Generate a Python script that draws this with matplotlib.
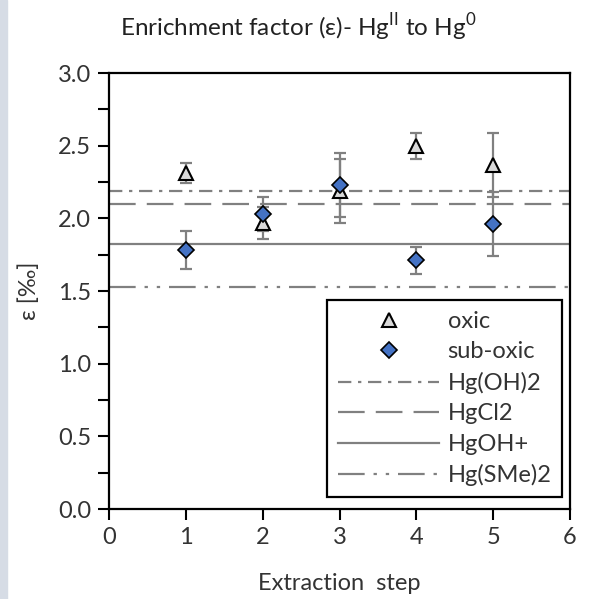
import numpy as np
import matplotlib.pyplot as plt
from matplotlib.patches import Rectangle

plt.rcParams['font.family'] = ['Lato', 'DejaVu Sans']

# data
steps = [1, 2, 3, 4, 5]
oxic = [2.31, 1.97, 2.19, 2.50, 2.37]
oxic_err = [0.07, 0.11, 0.22, 0.09, 0.22]
suboxic = [1.78, 2.03, 2.23, 1.71, 1.96]
suboxic_err = [0.13, 0.12, 0.22, 0.09, 0.22]

ref_names = ['Hg(OH)2', 'HgCl2', 'HgOH+', 'Hg(SMe)2']
ref_values = [2.19, 2.10, 1.82, 1.53]
ref_styles = [(0, (6, 3, 1.5, 3)), (0, (12, 5)), '-', (0, (12, 4, 1.5, 4, 1.5, 4))]

grey = '#808080'
fs = 17

fig = plt.figure(figsize=(5.9, 5.99), dpi=100)
fig.patches.append(Rectangle((0, 0), 7 / 590, 1, transform=fig.transFigure,
                             color='#d6dce5', zorder=0))
ax = fig.add_axes([109 / 590, 1 - 509 / 599, 461 / 590, 436 / 599])

for name, val, ls in zip(ref_names, ref_values, ref_styles):
    ax.axhline(val, color=grey, lw=1.6, ls=ls, label=name, zorder=1)

ax.errorbar(steps, oxic, yerr=oxic_err, fmt='none', ecolor=grey, elinewidth=1.6,
            capsize=4, capthick=1.6, zorder=2)
ax.errorbar(steps, suboxic, yerr=suboxic_err, fmt='none', ecolor=grey, elinewidth=1.6,
            capsize=4, capthick=1.6, zorder=2)
ax.plot(steps, oxic, ls='none', marker='^', ms=10.5, mfc='#d9d9d9', mec='black',
        mew=1.5, label='oxic', zorder=3)
ax.plot(steps, suboxic, ls='none', marker='D', ms=8, mfc='#4472c4', mec='black',
        mew=1.2, label='sub-oxic', zorder=4)

ax.set_xlim(0, 6)
ax.set_ylim(0, 3.0)
ax.set_xticks(range(7))
ax.set_yticks(np.arange(0, 3.01, 0.5))
ax.set_yticks(np.arange(0.25, 3.0, 0.5), minor=True)
ax.set_yticklabels(['%.1f' % v for v in np.arange(0, 3.01, 0.5)])
ax.tick_params(axis='both', which='both', direction='out', length=8, width=1.5,
               labelsize=fs, color='black', labelcolor='#333333', pad=5)
for s in ax.spines.values():
    s.set_linewidth(1.6)

ax.set_xlabel('Extraction  step', fontsize=fs, color='#333333', labelpad=18)
ax.set_ylabel('ε [‰]', fontsize=fs, color='#333333', labelpad=13)
fig.text(0.505, 0.955, 'Enrichment factor (ε)- Hg$^{\\mathregular{II}}$ to Hg$^{\\mathregular{0}}$',
         ha='center', va='center', fontsize=17.5, color='#222222')

handles, labels = ax.get_legend_handles_labels()
order = ['oxic', 'sub-oxic'] + ref_names
h = [handles[labels.index(n)] for n in order]
leg = ax.legend(h, order, loc='lower right', bbox_to_anchor=(0.983, 0.0275),
                borderaxespad=0, fontsize=fs, handlelength=4.3, numpoints=1,
                labelspacing=0.40, fancybox=False, framealpha=1, edgecolor='black',
                borderpad=0.45, handletextpad=0.35)
leg.get_frame().set_linewidth(1.6)
for t in leg.get_texts():
    t.set_color('#333333')

fig.savefig('out.png', dpi=100)
